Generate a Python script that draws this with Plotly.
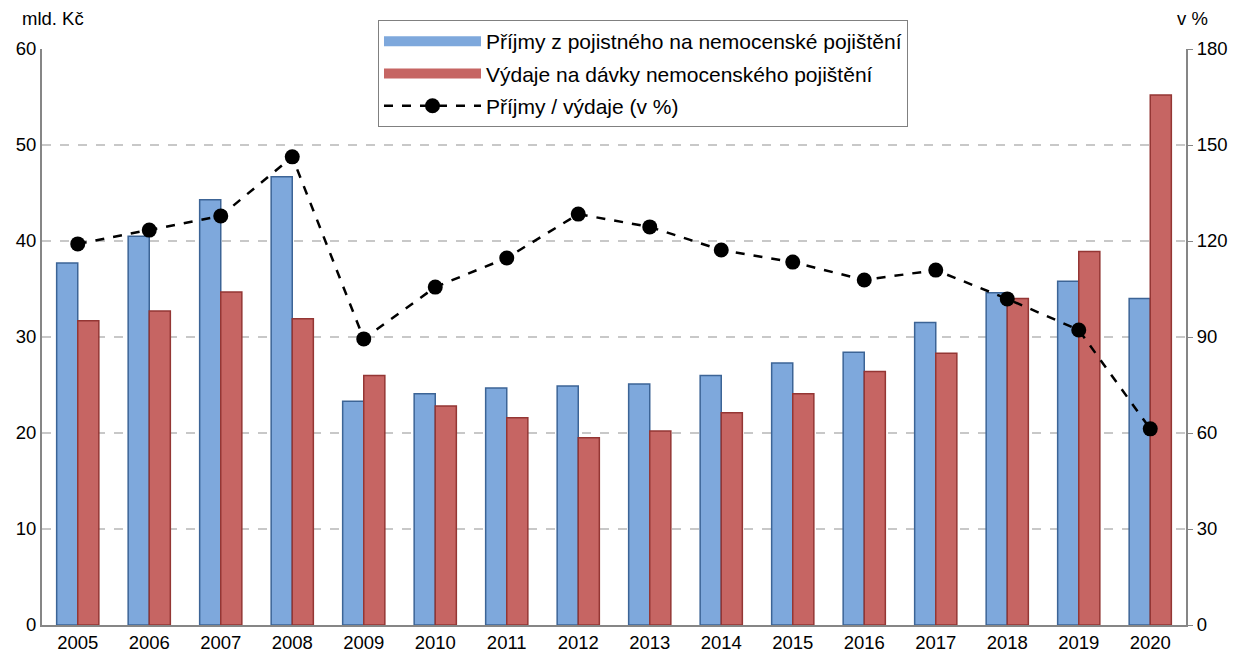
import plotly.graph_objects as go

years = [str(y) for y in range(2005, 2021)]
prijmy = [37.7, 40.5, 44.3, 46.7, 23.3, 24.1, 24.7, 24.9, 25.1, 26.0, 27.3, 28.4, 31.5, 34.6, 35.8, 34.0]
vydaje = [31.7, 32.7, 34.7, 31.9, 26.0, 22.8, 21.6, 19.5, 20.2, 22.1, 24.1, 26.4, 28.3, 34.0, 38.9, 55.2]
pomer = [119.1, 123.4, 127.8, 146.3, 89.4, 105.6, 114.7, 128.4, 124.4, 117.2, 113.4, 107.8, 110.9, 101.9, 92.2, 61.3]

name_p = "Příjmy z pojistného na nemocenské pojištění"
name_v = "Výdaje na dávky nemocenského pojištění"
name_r = "Příjmy / výdaje (v %)"

col_p, edge_p = "#7ea8dc", "#3c6496"
col_v, edge_v = "#c66563", "#943634"

font = "Liberation Sans, Arial, sans-serif"
tick_size = 18.5

fig = go.Figure()
fig.add_trace(go.Bar(x=years, y=prijmy, name=name_p, showlegend=False,
                     marker=dict(color=col_p, line=dict(color=edge_p, width=1.5))))
fig.add_trace(go.Bar(x=years, y=vydaje, name=name_v, showlegend=False,
                     marker=dict(color=col_v, line=dict(color=edge_v, width=1.5))))
fig.add_trace(go.Scatter(x=years, y=pomer, name=name_r, yaxis="y2", mode="lines+markers",
                         showlegend=False,
                         line=dict(color="black", width=2.5, dash="dash"),
                         marker=dict(color="black", size=15)))

# legend-only entries (wide swatches like the original)
fig.add_trace(go.Scatter(x=[None], y=[None], name=name_p, mode="lines", legendgroup="a",
                         line=dict(color=col_p, width=13)))
fig.add_trace(go.Scatter(x=[None], y=[None], name=name_v, mode="lines", legendgroup="b",
                         line=dict(color=col_v, width=13)))
fig.add_trace(go.Scatter(x=[None], y=[None], name=name_r, mode="lines+markers", legendgroup="c",
                         line=dict(color="black", width=2.5, dash="dash"),
                         marker=dict(color="black", size=15)))

fig.update_layout(
    width=1242, height=659,
    margin=dict(l=42, r=56, t=49, b=34),
    plot_bgcolor="white", paper_bgcolor="white",
    font=dict(family=font, size=tick_size, color="black"),
    barmode="group", bargap=0.41, bargroupgap=0,
    showlegend=True,
    legend=dict(x=0.2937, y=1.0503, xanchor="left", yanchor="top",
                bgcolor="white", bordercolor="#808080", borderwidth=1,
                font=dict(size=21), tracegroupgap=2, itemwidth=97,
                traceorder="grouped"),
    xaxis=dict(range=[-0.5, 15.5], showline=True, linecolor="#868686", linewidth=2, ticks="",
               showgrid=False, tickfont=dict(size=tick_size), automargin=False),
    yaxis=dict(range=[0, 60], dtick=10, showline=True, linecolor="#868686", linewidth=2,
               showgrid=True, gridcolor="#c8c8c8", griddash="dash", gridwidth=1.5,
               zeroline=False, ticks="", tickfont=dict(size=tick_size), automargin=False),
    yaxis2=dict(range=[0, 180], dtick=30, overlaying="y", side="right",
                showline=True, linecolor="#868686", linewidth=2,
                showgrid=False, zeroline=False, ticks="outside", ticklen=5,
                tickcolor="#868686", tickfont=dict(size=tick_size), automargin=False),
    annotations=[
        dict(text="mld. Kč", x=0, xref="paper", xanchor="left", xshift=-22,
             y=1.0, yref="paper", yanchor="bottom", yshift=18, showarrow=False,
             font=dict(size=tick_size)),
        dict(text="v %", x=1, xref="paper", xanchor="left", xshift=-11,
             y=1.0, yref="paper", yanchor="bottom", yshift=18, showarrow=False,
             font=dict(size=tick_size)),
    ],
)

fig.write_html("out.html", config={"displayModeBar": False},
               post_script="document.body.style.margin='0';")
